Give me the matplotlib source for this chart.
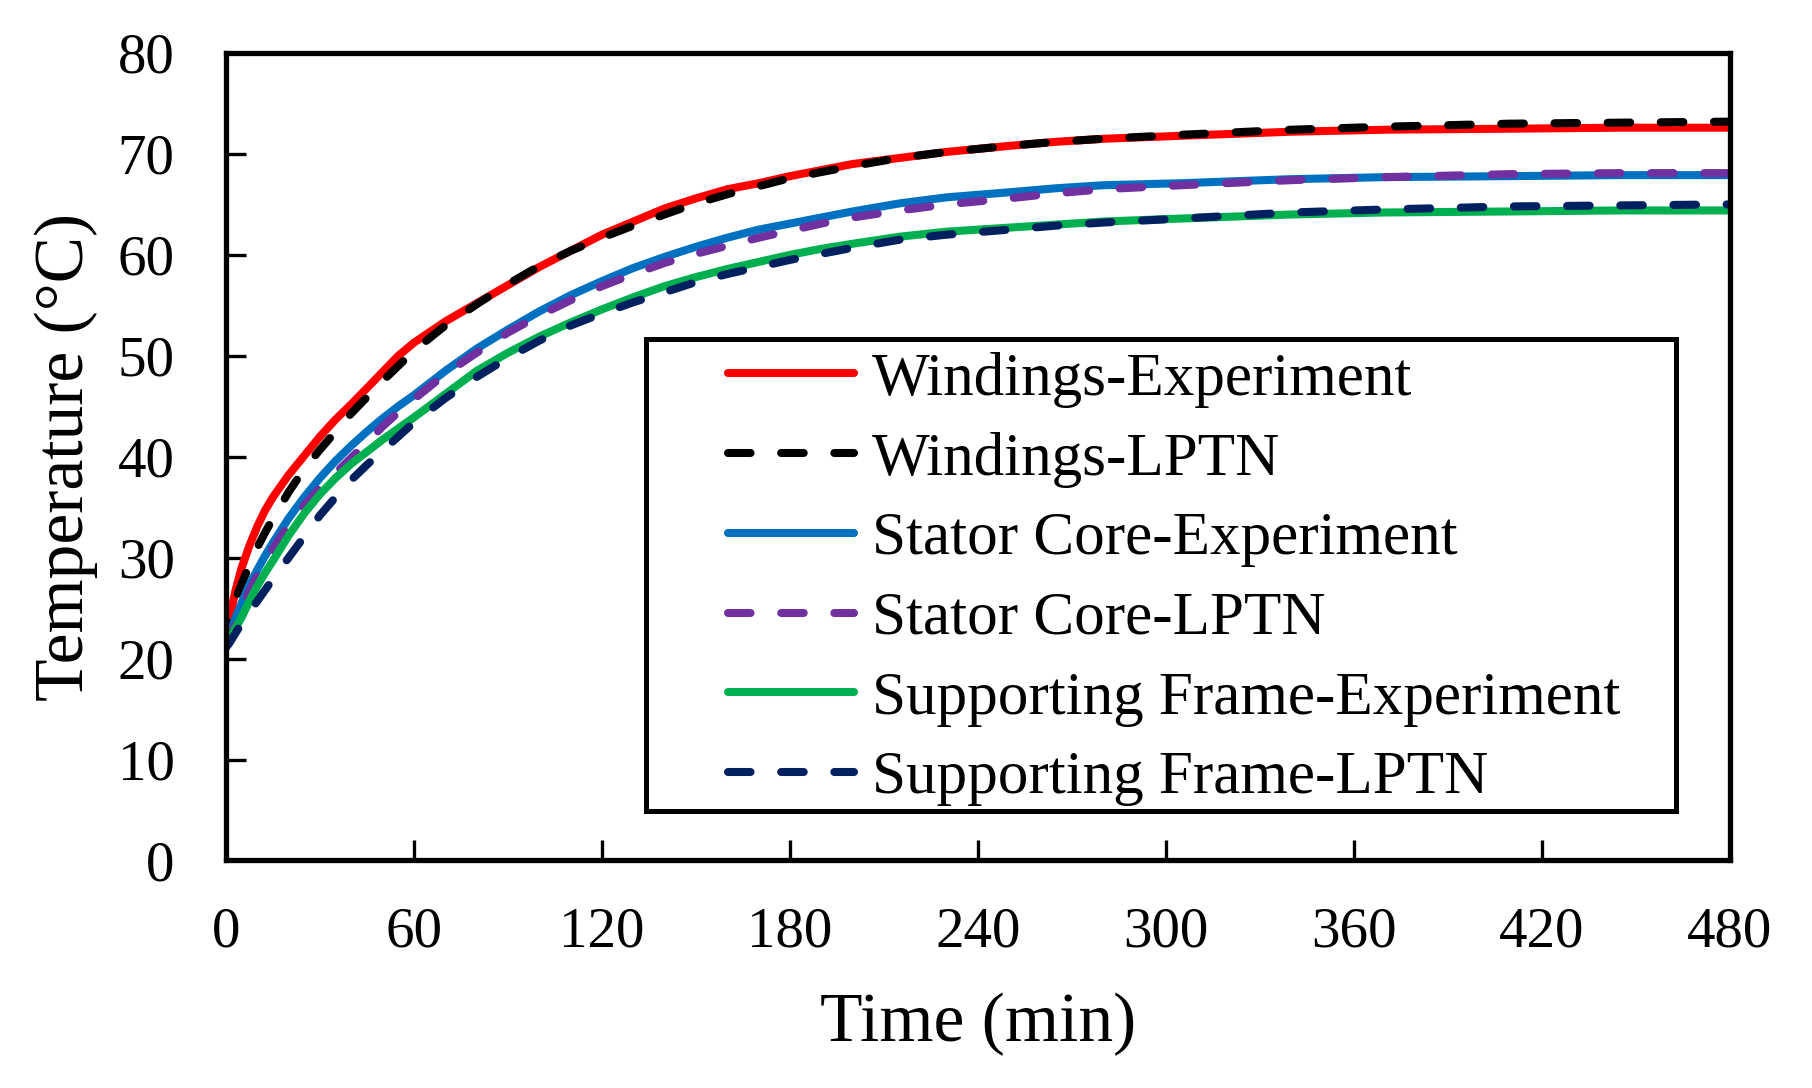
import numpy as np
import matplotlib.pyplot as plt
from matplotlib.patches import Rectangle

plt.rcParams['font.family'] = ['Liberation Serif', 'DejaVu Serif']

# time (min)
t = [0, 1, 2, 3, 5, 7.5, 10, 12.5, 15, 20, 25, 30, 35, 40, 45, 50, 55, 60, 70, 80, 90,
     100, 110, 120, 130, 140, 150, 160, 170, 180, 190, 200, 215, 230, 250, 265, 280,
     305, 340, 370, 410, 445, 480]

wind_exp = [21.5, 23.3, 25.2, 26.7, 29.0, 31.2, 33.1, 34.7, 36.0, 38.2, 40.1, 42.0, 43.7,
            45.2, 46.8, 48.4, 50.0, 51.3, 53.4, 55.2, 57.0, 58.8, 60.4, 62.0, 63.3, 64.6,
            65.6, 66.5, 67.1, 67.8, 68.4, 69.0, 69.6, 70.2, 70.8, 71.2, 71.5, 71.8, 72.2,
            72.4, 72.5, 72.6, 72.6]
wind_lptn = [21.3, 23.4, 24.8, 25.8, 27.4, 29.3, 31.0, 32.5, 33.9, 36.5, 38.8, 40.7, 42.5,
             44.3, 45.9, 47.5, 49.0, 50.5, 53.0, 55.1, 57.1, 58.9, 60.4, 61.7, 62.9, 64.0,
             65.1, 66.0, 66.8, 67.6, 68.2, 68.8, 69.6, 70.2, 70.8, 71.2, 71.5, 71.9, 72.4,
             72.7, 73.0, 73.1, 73.2]
stator_exp = [21.3, 22.2, 23.1, 24.0, 25.5, 27.3, 28.8, 30.2, 31.5, 33.9, 36.0, 37.9, 39.6,
              41.1, 42.5, 43.8, 45.0, 46.1, 48.5, 50.7, 52.6, 54.4, 56.0, 57.4, 58.7, 59.8,
              60.8, 61.7, 62.5, 63.1, 63.7, 64.3, 65.1, 65.7, 66.2, 66.6, 66.9, 67.1, 67.5,
              67.7, 67.8, 67.9, 67.9]
stator_lptn = [21.3, 21.9, 22.6, 23.4, 24.9, 26.7, 28.2, 29.6, 30.9, 33.2, 35.2, 36.9, 38.4,
               39.9, 41.4, 43.0, 44.4, 45.7, 48.2, 50.3, 52.3, 54.0, 55.5, 56.9, 58.1, 59.2,
               60.1, 60.9, 61.7, 62.4, 63.1, 63.7, 64.4, 65.0, 65.6, 66.1, 66.5, 66.9, 67.4,
               67.7, 68.0, 68.1, 68.1]
frame_exp = [21.6, 22.0, 22.5, 23.0, 24.1, 25.7, 27.2, 28.5, 29.7, 32.2, 34.4, 36.3, 37.9,
             39.3, 40.5, 41.7, 42.8, 43.9, 46.2, 48.5, 50.3, 51.9, 53.3, 54.6, 55.8, 56.9,
             57.8, 58.6, 59.3, 60.0, 60.6, 61.1, 61.8, 62.3, 62.7, 63.0, 63.3, 63.6, 64.0,
             64.2, 64.3, 64.4, 64.4]
frame_lptn = [21.1, 21.5, 22.0, 22.5, 23.5, 24.6, 25.7, 26.8, 27.9, 30.0, 32.1, 34.2, 36.0,
              37.7, 39.2, 40.6, 42.0, 43.4, 45.8, 47.9, 49.8, 51.5, 53.0, 54.2, 55.3, 56.3,
              57.3, 58.1, 58.8, 59.5, 60.1, 60.7, 61.5, 62.0, 62.5, 62.9, 63.2, 63.6, 64.2,
              64.5, 64.8, 64.9, 65.0]

xticks = [0, 60, 120, 180, 240, 300, 360, 420, 480]
yticks = [0, 10, 20, 30, 40, 50, 60, 70, 80]

fig = plt.figure(figsize=(18.12, 10.88), dpi=100)
ax = fig.add_axes([0.1247, 0.2091, 0.8300, 0.7422])

lw = 5.8
dash = (2.8, 3.8)
ax.plot(t, wind_exp, color='#FF0000', lw=lw, solid_capstyle='round', label='Windings-Experiment')
ax.plot(t, wind_lptn, color='#000000', lw=lw, dashes=dash, dash_capstyle='round', label='Windings-LPTN')
ax.plot(t, stator_exp, color='#0070C0', lw=lw, solid_capstyle='round', label='Stator Core-Experiment')
ax.plot(t, stator_lptn, color='#7030A0', lw=lw, dashes=dash, dash_capstyle='round', label='Stator Core-LPTN')
ax.plot(t, frame_exp, color='#00B050', lw=lw, solid_capstyle='round', label='Supporting Frame-Experiment')
ax.plot(t, frame_lptn, color='#002060', lw=lw, dashes=dash, dash_capstyle='round', label='Supporting Frame-LPTN')

ax.set_xlim(0, 480)
ax.set_ylim(0, 80)
ax.set_xticks(xticks)
ax.set_yticks(yticks)
ax.tick_params(direction='in', length=14.4, width=2.4, labelsize=41)
ax.tick_params(axis='x', pad=33)
ax.tick_params(axis='y', pad=37)
for s in ax.spines.values():
    s.set_linewidth(3.8)

ax.set_xlabel('Time (min)', fontsize=50, labelpad=25)
ax.set_ylabel('Temperature (\u00b0C)', fontsize=50, labelpad=14)

# legend box
box = Rectangle((0.2793, 0.0607), 0.6848, 0.5845, transform=ax.transAxes,
                facecolor='white', edgecolor='black', lw=3.6, zorder=4)
ax.add_patch(box)
leg = ax.legend(loc='center left', bbox_to_anchor=(0.3338, 0.3486), frameon=False,
                fontsize=44, handlelength=2.06, handletextpad=0.3, labelspacing=0.39,
                borderpad=0, borderaxespad=0)
leg.set_zorder(5)

plt.savefig('out.png', dpi=100)
